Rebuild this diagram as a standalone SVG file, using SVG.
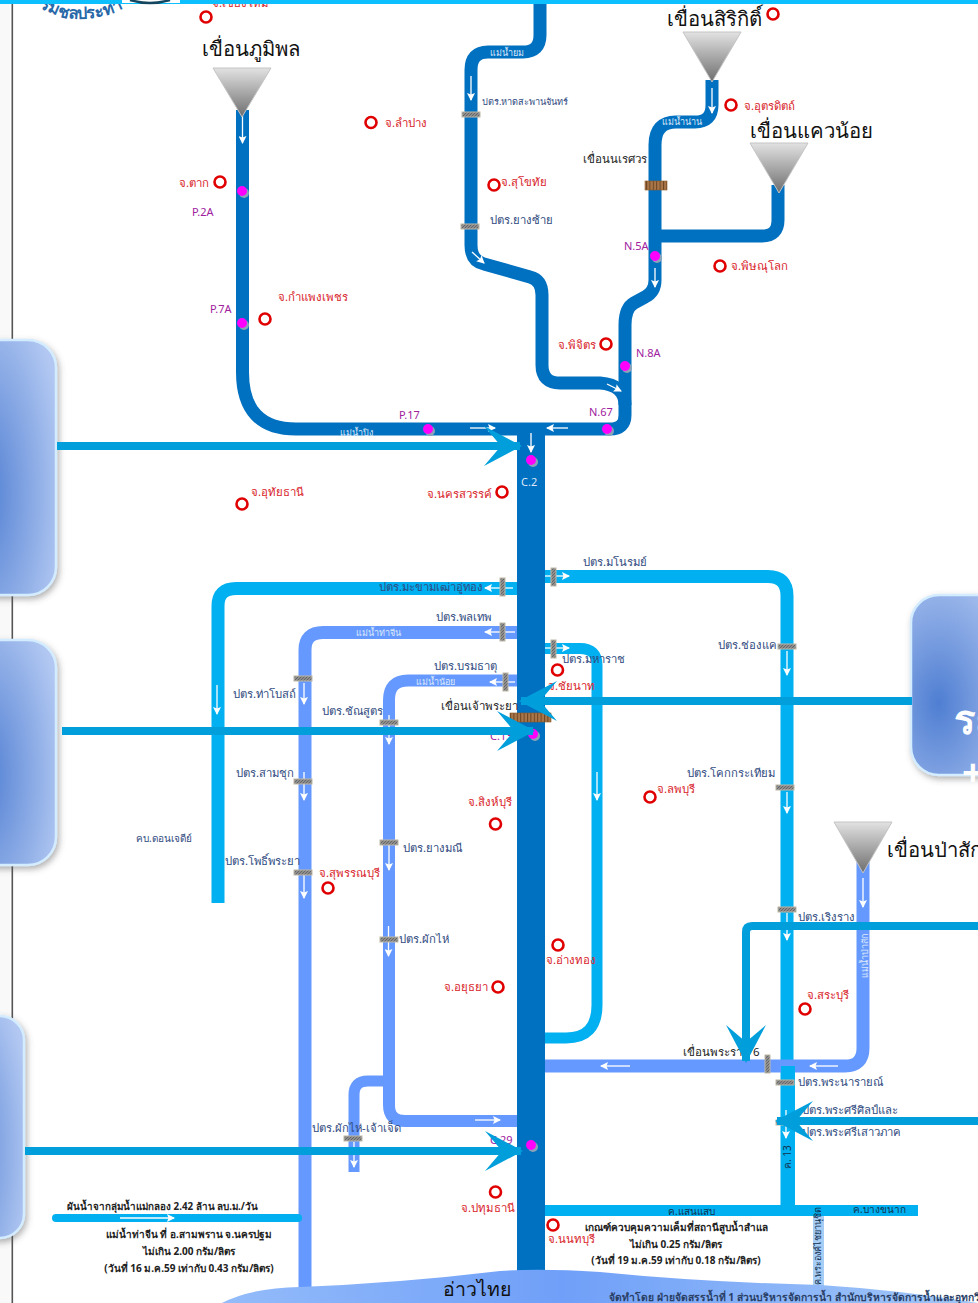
<svg xmlns="http://www.w3.org/2000/svg" width="978" height="1303" viewBox="0 0 978 1303">
<style>
text{font-family:"Noto Sans","Liberation Sans",sans-serif}
.r{fill:none;stroke-linejoin:round}
.d{stroke:#0070c0;stroke-width:13}
.c{stroke:#00b0f0;stroke-width:13}
.p{stroke:#6699ff;stroke-width:13}
.f{fill:none;stroke:#fff;stroke-width:1.3;marker-end:url(#sm)}
.big{fill:none;stroke:#009fdb;stroke-width:8;marker-end:url(#bg)}
.pv circle{fill:#fff;stroke:#e00000;stroke-width:2.6}
.pv text{fill:#d8232a;font-size:11.4px}
.n{fill:#2f4a80;font-size:11.3px}
.k{fill:#222;font-size:11.5px}
.dam{fill:#111;font-size:20.3px}
.g{fill:#a020a0;font-size:11px}
.w{fill:#dce8fa;font-size:9px}
.s{fill:#222;font-size:10px;font-weight:bold;text-anchor:middle}
.h{fill:url(#hatch);stroke:#bdb8a8;stroke-width:1}
.b{fill:url(#brown);stroke:#8a5a2a;stroke-width:.6}
.t{fill:url(#tri);stroke:#c4c4c4;stroke-width:1}
.gs{fill:#8aa3b8}
.gm{fill:#ff00ff}
.box{fill:url(#box);stroke:#d4ecff;stroke-width:2.5;filter:url(#sh)}
</style>
<defs>
<linearGradient id="tri" x1="0" y1="0" x2="0" y2="1"><stop offset="0" stop-color="#e2e2e2"/><stop offset="1" stop-color="#6e6e6e"/></linearGradient>
<radialGradient id="box" cx=".25" cy=".6" r=".85"><stop offset="0" stop-color="#4f7ed2"/><stop offset="1" stop-color="#b2c8f2"/></radialGradient>
<linearGradient id="bay" x1="0" y1="0" x2="1" y2="0"><stop offset="0" stop-color="#94bcfa"/><stop offset=".45" stop-color="#6f9ff8"/><stop offset="1" stop-color="#a3c8f8"/></linearGradient>
<pattern id="hatch" width="3" height="3" patternUnits="userSpaceOnUse"><rect width="3" height="3" fill="#8e8e8e"/><path d="M0,3L3,0" stroke="#555" stroke-width=".7"/></pattern>
<pattern id="brown" width="3.4" height="4" patternUnits="userSpaceOnUse"><rect width="3.4" height="4" fill="#a9764a"/><rect width="1" height="4" fill="#6b4420"/></pattern>
<marker id="sm" viewBox="0 0 8 8" refX="7" refY="4" markerWidth="8" markerHeight="8" markerUnits="userSpaceOnUse" orient="auto"><path d="M0,0L8,4L0,8L1.5,4z" fill="#fff"/></marker>
<marker id="bg" viewBox="0 0 38 40" refX="36" refY="20" markerWidth="38" markerHeight="40" markerUnits="userSpaceOnUse" orient="auto"><path d="M0,0L38,20L0,40L17,20z" fill="#009fdb"/></marker>
<filter id="sh" x="-20%" y="-10%" width="140%" height="120%"><feDropShadow dx="2" dy="3" stdDeviation="3" flood-color="#555" flood-opacity=".45"/></filter>
<path id="seal" d="M28,-2Q70,36 128,6"/>
</defs>
<rect width="978" height="1303" fill="#fff"/>
<rect x="0" y="0" width="10" height="1303" fill="#f9f9f9"/>
<rect x="11.5" y="0" width="1.6" height="1303" fill="#555"/>
<g id="logo">
<text font-size="16.5" font-weight="bold" fill="#2868a8"><textPath href="#seal" startOffset="14">รมชลประทาน</textPath></text>
</g>
<g id="connectors">
<path class="r d" d="M242.5,110V372Q242.5,429 296,429H520"/>
<path class="r d" d="M540,0V35Q540,52 523,52H488Q471,52 471,70V245Q471,261 484,264L530,277Q542,280 542,295V365Q542,383 560,383H600Q625,385 625,405"/>
<path class="r d" d="M712,80V105Q712,122 695,122H676Q655,122 655,145V280Q655,292 645,297L634,303Q625,308 625,325V415Q625,429 610,429H520"/>
<path class="r d" d="M778,185V220Q778,236 762,236H655"/>
<path class="r" stroke="#0070c0" stroke-width="28" d="M531,429V1285"/>
<path class="r c" d="M517,588.5H236Q218,588.5 218,606V903"/>
<path class="r c" d="M545,576.5H768Q787,576.5 787,596V1210"/>
<path class="r c" d="M545,648.5H580Q597,648.5 597,665V1005Q597,1038 566,1038H545" style="stroke-width:11"/>
<path class="r p" d="M517,632.5H323Q305,632.5 305,650V1292"/>
<path class="r p" d="M517,680.5H408Q389,680.5 389,700V1105Q389,1121 405,1121H517" style="stroke-width:12"/>
<path class="r p" d="M389,1081H368Q354,1081 354,1095V1172" style="stroke-width:11"/>
<path class="r p" d="M863,860V1048Q863,1066 845,1066H545"/>
<path class="r c" d="M788,1066V1215" style="stroke-width:14"/>
<path class="r c" d="M545,1210.5H918" style="stroke-width:11"/>
<path fill="none" stroke="#a5cdf5" stroke-width="11" d="M818.5,1216V1292"/>
<path fill="none" stroke="#00b0f0" stroke-width="8" stroke-linecap="round" d="M56,1218H298"/>
<path class="f" d="M242.5,116V143"/><path class="f" d="M471,76V100"/><path class="f" d="M472,252L484,263"/><path class="f" d="M712,88V113"/><path class="f" d="M655,268V287"/><path class="f" d="M607,384L621,391"/>
<path class="f" d="M470,428H495"/><path class="f" d="M568,428H547"/><path class="f" d="M531,433V452"/>
<path class="f" d="M513,588H485"/><path class="f" d="M515,632H485"/><path class="f" d="M515,682H490"/><path class="f" d="M545,576H569"/><path class="f" d="M545,648H569"/>
<path class="f" d="M217,685V714"/><path class="f" d="M304,683V704"/><path class="f" d="M304,772V800"/><path class="f" d="M304,875V898"/><path class="f" d="M389,715V744"/><path class="f" d="M389,845V870"/><path class="f" d="M388.500,926V956"/><path class="f" d="M597,772V800"/>
<path class="f" d="M787,651V675"/><path class="f" d="M787,792V813"/><path class="f" d="M787,913V940"/><path class="f" d="M863,878V907"/><path class="f" d="M838,1066H810"/><path class="f" d="M630,1066H601"/><path class="f" d="M786,1110V1138"/><path class="f" d="M475,1120H500"/><path class="f" d="M354,1142V1167"/><path class="f" d="M120,1218H174"/>
</g>
<path id="bay-shape" d="M222,1303Q250,1288 300,1287Q400,1283 500,1271Q540,1268 600,1272Q700,1282 820,1285Q900,1290 978,1303z" fill="url(#bay)"/>
<g id="weirs">
<rect class="h" x="462" y="112" width="18" height="5"/><rect class="h" x="461" y="224" width="18" height="5"/><rect class="h" x="294" y="676" width="18" height="5"/><rect class="h" x="294" y="779" width="18" height="5"/><rect class="h" x="294" y="870" width="18" height="5"/><rect class="h" x="380" y="720" width="18" height="5"/><rect class="h" x="380" y="840" width="18" height="5"/><rect class="h" x="380" y="937" width="18" height="5"/><rect class="h" x="344" y="1136" width="18" height="5"/><rect class="h" x="778" y="644" width="18" height="5"/><rect class="h" x="776" y="785" width="18" height="5"/><rect class="h" x="778" y="907" width="18" height="5"/><rect class="h" x="776" y="1080" width="18" height="5"/><rect class="h" x="776" y="1120" width="18" height="5"/>
<rect class="h" x="500" y="578" width="5" height="18"/><rect class="h" x="500" y="623" width="5" height="18"/><rect class="h" x="503" y="673" width="5" height="18"/><rect class="h" x="551" y="568" width="5" height="18"/><rect class="h" x="551" y="640" width="5" height="18"/><rect class="h" x="765" y="1055" width="5" height="18"/>
</g>
<g id="dam-naresuan"><rect class="b" x="645" y="181" width="22" height="9"/><text class="k" x="583" y="163">เขื่อนนเรศวร</text></g>
<g id="dam-chaophraya"><rect class="b" x="510" y="713" width="41" height="9"/><text class="k" x="441" y="710">เขื่อนเจ้าพระยา</text></g>
<g id="dam-rama6"><text class="k" x="683" y="1056">เขื่อนพระราม 6</text></g>
<g id="dam-bhumibol"><polygon class="t" points="213,68 271,68 242,117"/><text class="dam" x="202" y="56">เขื่อนภูมิพล</text></g>
<g id="dam-sirikit"><polygon class="t" points="683,32 741,32 712,82"/><text class="dam" x="667" y="26">เขื่อนสิริกิติ์</text></g>
<g id="dam-khwaenoi"><polygon class="t" points="750,143 808,143 779,193"/><text class="dam" x="750" y="138">เขื่อนแควน้อย</text></g>
<g id="dam-pasak"><polygon class="t" points="834,822 892,822 863,873"/><text class="dam" x="887" y="857">เขื่อนป่าสัก</text></g>
<g id="gauges">
<circle class="gs" cx="244" cy="193" r="5"/><circle class="gm" cx="242" cy="191" r="5"/>
<circle class="gs" cx="244" cy="325" r="5"/><circle class="gm" cx="242" cy="323" r="5"/>
<circle class="gs" cx="430" cy="431" r="5"/><circle class="gm" cx="428" cy="429" r="5"/>
<circle class="gs" cx="609" cy="431" r="5"/><circle class="gm" cx="607" cy="429" r="5"/>
<circle class="gs" cx="657" cy="258" r="5"/><circle class="gm" cx="655" cy="256" r="5"/>
<circle class="gs" cx="627" cy="368" r="5"/><circle class="gm" cx="625" cy="366" r="5"/>
<circle class="gs" cx="533" cy="462" r="5"/><circle class="gm" cx="531" cy="460" r="5"/>
<circle class="gs" cx="535" cy="736" r="5"/><circle class="gm" cx="533" cy="734" r="5"/>
<circle class="gs" cx="533" cy="1147" r="5"/><circle class="gm" cx="531" cy="1145" r="5"/>
<text class="g" x="192" y="216">P.2A</text><text class="g" x="210" y="313">P.7A</text><text class="g" x="399" y="419">P.17</text><text class="g" x="589" y="416">N.67</text><text class="g" x="624" y="250">N.5A</text><text class="g" x="636" y="357">N.8A</text><text x="521" y="486" font-size="11" fill="#dce8fa">C.2</text><text class="g" x="490" y="740">C.13</text><text class="g" x="490" y="1144">C.29</text>
</g>
<g id="p1" class="pv"><circle cx="206" cy="17" r="5.500"/><text x="212" y="7">จ.เชียงใหม่</text></g>
<g id="p2" class="pv"><circle cx="371" cy="122.500" r="5.500"/><text x="385" y="127">จ.ลำปาง</text></g>
<g id="p3" class="pv"><circle cx="220" cy="182" r="5.500"/><text x="179" y="187">จ.ตาก</text></g>
<g id="p4" class="pv"><circle cx="265" cy="319" r="5.500"/><text x="278" y="301">จ.กำแพงเพชร</text></g>
<g id="p5" class="pv"><circle cx="494" cy="185" r="5.500"/><text x="501" y="186">จ.สุโขทัย</text></g>
<g id="p6" class="pv"><circle cx="731" cy="105" r="5.500"/><text x="744" y="110">จ.อุตรดิตถ์</text></g>
<g id="p7" class="pv"><circle cx="773" cy="14" r="5.500"/></g>
<g id="p8" class="pv"><circle cx="720" cy="266" r="5.500"/><text x="731" y="270">จ.พิษณุโลก</text></g>
<g id="p9" class="pv"><circle cx="606" cy="344" r="5.500"/><text x="558" y="349">จ.พิจิตร</text></g>
<g id="p10" class="pv"><circle cx="242" cy="504" r="5.500"/><text x="251" y="496">จ.อุทัยธานี</text></g>
<g id="p11" class="pv"><circle cx="502" cy="492" r="5.500"/><text x="427" y="498">จ.นครสวรรค์</text></g>
<g id="p12" class="pv"><circle cx="557.500" cy="670" r="5.500"/><text x="548" y="690">จ.ชัยนาท</text></g>
<g id="p13" class="pv"><circle cx="650" cy="797" r="5.500"/><text x="657" y="793">จ.ลพบุรี</text></g>
<g id="p14" class="pv"><circle cx="495.500" cy="824" r="5.500"/><text x="468" y="806">จ.สิงห์บุรี</text></g>
<g id="p15" class="pv"><circle cx="328" cy="888" r="5.500"/><text x="319" y="877">จ.สุพรรณบุรี</text></g>
<g id="p16" class="pv"><circle cx="558" cy="945" r="5.500"/><text x="546" y="964">จ.อ่างทอง</text></g>
<g id="p17" class="pv"><circle cx="498" cy="987" r="5.500"/><text x="444" y="991">จ.อยุธยา</text></g>
<g id="p18" class="pv"><circle cx="805" cy="1009" r="5.500"/><text x="807" y="999">จ.สระบุรี</text></g>
<g id="p19" class="pv"><circle cx="495.500" cy="1192" r="5.500"/><text x="461" y="1212">จ.ปทุมธานี</text></g>
<g id="p20" class="pv"><circle cx="553" cy="1225" r="5.500"/><text x="548" y="1243">จ.นนทบุรี</text></g>
<g id="labels">
<text class="n" x="482" y="105" style="font-size:9.2px">ปตร.หาดสะพานจันทร์</text>
<text class="n" x="490" y="224">ปตร.ยางซ้าย</text>
<text class="w" x="490" y="56">แม่น้ำยม</text><text class="w" x="662" y="125">แม่น้ำน่าน</text><text class="w" x="340" y="436">แม่น้ำปิง</text><text class="w" x="356" y="636">แม่น้ำท่าจีน</text><text class="w" x="416" y="685">แม่น้ำน้อย</text>
<text class="w" transform="translate(868,978) rotate(-90)">แม่น้ำป่าสัก</text>
<text class="n" x="583" y="566">ปตร.มโนรมย์</text><text class="n" x="718" y="649">ปตร.ช่องแค</text><text class="n" x="687" y="777">ปตร.โคกกระเทียม</text><text class="n" x="798" y="921">ปตร.เริงราง</text><text class="n" x="798" y="1086">ปตร.พระนารายณ์</text><text class="n" x="802" y="1114">ปตร.พระศรีศิลป์และ</text><text class="n" x="802" y="1136">ปตร.พระศรีเสาวภาค</text>
<text class="n" x="379" y="591">ปตร.มะขามเฒ่าอู่ทอง</text><text class="n" x="436" y="621">ปตร.พลเทพ</text><text class="n" x="434" y="670">ปตร.บรมธาตุ</text><text class="n" x="562" y="663">ปตร.มหาราช</text><text class="n" x="233" y="698">ปตร.ท่าโบสถ์</text><text class="n" x="322" y="715">ปตร.ชัณสูตร</text><text class="n" x="236" y="777">ปตร.สามชุก</text><text class="n" x="225" y="865">ปตร.โพธิ์พระยา</text><text class="n" x="403" y="852">ปตร.ยางมณี</text><text class="n" x="399" y="943">ปตร.ผักไห่</text><text class="n" x="312" y="1132">ปตร.ผักไห่-เจ้าเจ็ด</text>
<text class="n" x="136" y="842" style="font-size:10px">คบ.ดอนเจดีย์</text>
<text transform="translate(791,1169) rotate(-90)" font-size="10" fill="#12304f">ค. 13</text>
<text x="668" y="1215" font-size="10" fill="#12304f">ค.แสนแสบ</text><text x="853" y="1213" font-size="10" fill="#12304f">ค.บางขนาก</text>
<text transform="translate(821,1285) rotate(-90)" font-size="9" fill="#12304f">ค.พระองค์ไชยานุชิต</text>
<text x="67" y="1210" font-size="9.800" font-weight="bold" fill="#222">ผันน้ำจากลุ่มน้ำแม่กลอง 2.42 ล้าน ลบ.ม./วัน</text>
<text class="s" x="189" y="1238">แม่น้ำท่าจีน ที่ อ.สามพราน จ.นครปฐม</text><text class="s" x="189" y="1255">ไม่เกิน 2.00 กรัม/ลิตร</text><text class="s" x="189" y="1272">(วันที่ 16 ม.ค.59 เท่ากับ 0.43 กรัม/ลิตร)</text>
<text class="s" x="676" y="1231">เกณฑ์ควบคุมความเค็มที่สถานีสูบน้ำสำแล</text><text class="s" x="676" y="1248">ไม่เกิน 0.25 กรัม/ลิตร</text><text class="s" x="676" y="1264">(วันที่ 19 ม.ค.59 เท่ากับ 0.18 กรัม/ลิตร)</text>
<text x="443" y="1296" font-size="19.500" fill="#111">อ่าวไทย</text>
<text x="609" y="1301" font-size="10.300" font-weight="bold" fill="#2a3f66">จัดทำโดย ฝ่ายจัดสรรน้ำที่ 1 ส่วนบริหารจัดการน้ำ สำนักบริหารจัดการน้ำและอุทกวิทยา</text>
</g>
<g id="box-west1"><rect class="box" x="-40" y="340" width="96" height="255" rx="28"/></g>
<g id="box-west2"><rect class="box" x="-40" y="640" width="96" height="225" rx="28"/></g>
<g id="box-west3"><rect class="box" x="-60" y="1016" width="84" height="222" rx="24"/></g>
<g id="box-east"><rect class="box" x="911" y="595" width="110" height="180" rx="28"/><text x="954" y="734" font-size="40" font-weight="bold" fill="#fff">ระ</text><text x="962" y="786" font-size="38" font-weight="bold" fill="#fff">+</text></g>
<g id="overlay-arrows">
<path class="big" d="M57,446H520"/>
<path class="big" d="M62,731H533"/>
<path class="big" d="M25,1151H521"/>
<path class="big" d="M912,701H521"/>
<path class="big" d="M978,926H752Q746,926 746,932V1061"/>
<path class="big" d="M978,1121H777"/>
</g>
<rect id="top-bar" x="0" y="0" width="978" height="4" fill="#0cc0ff"/>
<g id="logo-ring"><path d="M122,0H180V3H122z" fill="#fff"/><path d="M130,0Q150,6 170,0" fill="none" stroke="#14475f" stroke-width="2.500"/></g>
</svg>
